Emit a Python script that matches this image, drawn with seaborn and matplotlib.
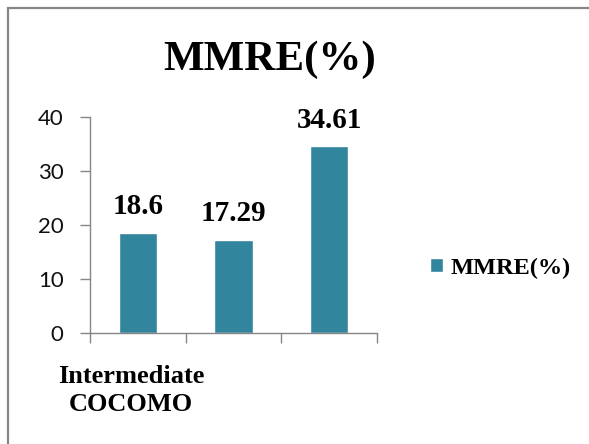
import matplotlib
matplotlib.use("Agg")
import matplotlib.pyplot as plt
import matplotlib.transforms as mtransforms
import seaborn as sns
from matplotlib.patches import Rectangle

# Data
models = ["Intermediate COCOMO", "Model 2", "Model 3"]
tick_labels = ["Intermediate\nCOCOMO", "", ""]
mmre = [18.6, 17.29, 34.61]
value_labels = ["18.6", "17.29", "34.61"]
series_name = "MMRE(%)"

bar_color = "#31859C"
axis_color = "#868686"
serif = ["Liberation Serif", "DejaVu Serif"]

sns.set_style("white")
plt.rcParams["font.family"] = ["Lato", "DejaVu Sans"]
plt.rcParams["text.color"] = "black"

W, H = 589, 444
fig = plt.figure(figsize=(W / 100, H / 100), dpi=100)
ax = fig.add_axes([90 / W, 1 - 333 / H, (377 - 90) / W, (333 - 117) / H])

sns.barplot(x=models, y=mmre, color=bar_color, width=0.4, ax=ax,
            saturation=1, label=series_name)

ax.set_xlim(-0.5, 2.5)
ax.set_ylim(0, 40)
ax.set_yticks([0, 10, 20, 30, 40])
ax.tick_params(axis="y", left=True, labelsize=16, labelcolor="#111111",
               length=7, width=1, color=axis_color, pad=12)

# category boundaries as ticks, labels on minor ticks at centres
ax.set_xticks([-0.5, 0.5, 1.5, 2.5])
ax.set_xticklabels([])
ax.tick_params(axis="x", which="major", bottom=True, length=7, width=1,
               color=axis_color)
ax.set_xticks(range(len(models)), minor=True)
ax.set_xticklabels(tick_labels, minor=True, fontfamily=serif,
                   fontweight="bold", fontsize=19, linespacing=1.3,
                   color="black")
ax.tick_params(axis="x", which="minor", bottom=True, length=0, pad=23)
shift = mtransforms.ScaledTranslation(-7 / 100, 0, fig.dpi_scale_trans)
for lab in ax.get_xticklabels(minor=True):
    lab.set_transform(lab.get_transform() + shift)

for side in ["top", "right"]:
    ax.spines[side].set_visible(False)
for side in ["left", "bottom"]:
    ax.spines[side].set_color(axis_color)
    ax.spines[side].set_linewidth(1)
ax.set_xlabel("")
ax.set_ylabel("")

for i, v in enumerate(mmre):
    ax.annotate(value_labels[i], (i, v), xytext=(0, 9), textcoords="offset points",
                ha="center", va="bottom", fontfamily=serif, fontweight="bold",
                fontsize=21, color="black")

fig.text(270 / W, 1 - 60 / H, series_name, ha="center", va="center",
         fontfamily=serif, fontweight="bold", fontsize=31, color="black")

handles, labels = ax.get_legend_handles_labels()
if ax.get_legend() is not None:
    ax.get_legend().remove()
fig.legend(handles[:1], [series_name], loc="center left",
           bbox_to_anchor=(430 / W, 1 - 268 / H), frameon=False,
           prop={"family": serif, "weight": "bold", "size": 17.5},
           handlelength=0.55, handleheight=0.55, handletextpad=0.3,
           borderpad=0, borderaxespad=0)

fig.patches.append(Rectangle((8 / W, -0.05), 1.0, 1 - 8 / H + 0.05,
                             transform=fig.transFigure, fill=False,
                             edgecolor=axis_color, linewidth=1.6))

fig.savefig("out.png", dpi=100)
